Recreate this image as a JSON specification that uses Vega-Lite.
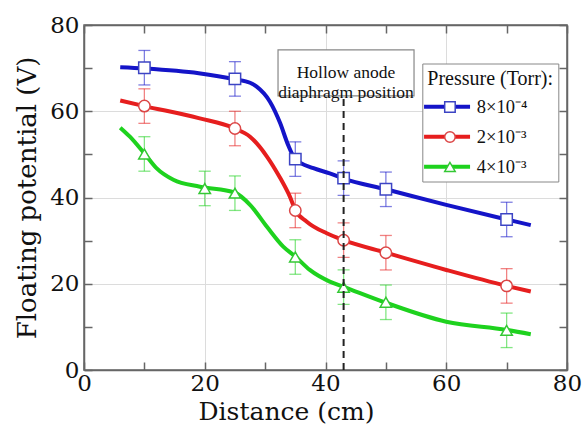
{
  "$schema": "https://vega.github.io/schema/vega-lite/v6.json",
  "width": 483,
  "height": 345,
  "autosize": "none",
  "padding": {"left": 84, "top": 25, "right": 18, "bottom": 62},
  "background": "white",
  "config": {
    "font": "Times New Roman, Liberation Serif, serif",
    "view": {"stroke": "#666", "strokeWidth": 1.5},
    "text": {"font": "Times New Roman, Liberation Serif, serif"},
    "axis": {
      "labelColor": "#111",
      "titleColor": "#111",
      "titleFontWeight": "normal",
      "domainColor": "#666",
      "domainWidth": 1.5,
      "tickColor": "#666",
      "tickWidth": 1.5,
      "tickSize": -8,
      "gridColor": "#dcdcdc",
      "gridWidth": 1,
      "labelFlush": false,
      "labelOverlap": false
    },
    "legend": {
      "labelFont": "Times New Roman, Liberation Serif, serif",
      "titleFont": "Times New Roman, Liberation Serif, serif"
    }
  },
  "datasets": {
    "curves": [
      {"p": "8×10⁻⁴", "x": 6, "y": 70.2},
      {"p": "8×10⁻⁴", "x": 10, "y": 69.9},
      {"p": "8×10⁻⁴", "x": 19, "y": 68.8},
      {"p": "8×10⁻⁴", "x": 25, "y": 67.4},
      {"p": "8×10⁻⁴", "x": 27.5, "y": 66.6},
      {"p": "8×10⁻⁴", "x": 28.6, "y": 65.7},
      {"p": "8×10⁻⁴", "x": 30.8, "y": 62.2},
      {"p": "8×10⁻⁴", "x": 32.5, "y": 57.2},
      {"p": "8×10⁻⁴", "x": 33.8, "y": 52.2},
      {"p": "8×10⁻⁴", "x": 35, "y": 48.9},
      {"p": "8×10⁻⁴", "x": 38, "y": 46.8},
      {"p": "8×10⁻⁴", "x": 40.7, "y": 45.6},
      {"p": "8×10⁻⁴", "x": 43, "y": 44.4},
      {"p": "8×10⁻⁴", "x": 50, "y": 41.9},
      {"p": "8×10⁻⁴", "x": 60, "y": 38.3},
      {"p": "8×10⁻⁴", "x": 70, "y": 34.9},
      {"p": "8×10⁻⁴", "x": 74, "y": 33.6},
      {"p": "2×10⁻³", "x": 6, "y": 62.5},
      {"p": "2×10⁻³", "x": 10, "y": 61.2},
      {"p": "2×10⁻³", "x": 19, "y": 58.4},
      {"p": "2×10⁻³", "x": 25, "y": 56.0},
      {"p": "2×10⁻³", "x": 27.5, "y": 54.1},
      {"p": "2×10⁻³", "x": 30.3, "y": 49.5},
      {"p": "2×10⁻³", "x": 32.5, "y": 44.5},
      {"p": "2×10⁻³", "x": 34.1, "y": 40.2},
      {"p": "2×10⁻³", "x": 35, "y": 37.1},
      {"p": "2×10⁻³", "x": 36.9, "y": 34.4},
      {"p": "2×10⁻³", "x": 40.2, "y": 31.7},
      {"p": "2×10⁻³", "x": 43, "y": 30.1},
      {"p": "2×10⁻³", "x": 50, "y": 27.2},
      {"p": "2×10⁻³", "x": 60, "y": 23.2},
      {"p": "2×10⁻³", "x": 70, "y": 19.5},
      {"p": "2×10⁻³", "x": 74, "y": 18.2},
      {"p": "4×10⁻³", "x": 6, "y": 56.2},
      {"p": "4×10⁻³", "x": 7.6, "y": 54.1},
      {"p": "4×10⁻³", "x": 10, "y": 50.2},
      {"p": "4×10⁻³", "x": 12, "y": 46.8},
      {"p": "4×10⁻³", "x": 14.8, "y": 44.1},
      {"p": "4×10⁻³", "x": 19.2, "y": 42.5},
      {"p": "4×10⁻³", "x": 25, "y": 41.1},
      {"p": "4×10⁻³", "x": 27.5, "y": 38.3},
      {"p": "4×10⁻³", "x": 30.3, "y": 33.2},
      {"p": "4×10⁻³", "x": 33, "y": 28.6},
      {"p": "4×10⁻³", "x": 35, "y": 26.3},
      {"p": "4×10⁻³", "x": 37.4, "y": 23.2},
      {"p": "4×10⁻³", "x": 40.7, "y": 20.5},
      {"p": "4×10⁻³", "x": 43, "y": 19.3},
      {"p": "4×10⁻³", "x": 50, "y": 15.6},
      {"p": "4×10⁻³", "x": 60, "y": 11.2},
      {"p": "4×10⁻³", "x": 70, "y": 9.3},
      {"p": "4×10⁻³", "x": 74, "y": 8.3}
    ],
    "points": [
      {"p": "8×10⁻⁴", "x": 10, "y": 70.1, "e": 4},
      {"p": "8×10⁻⁴", "x": 25, "y": 67.5, "e": 4},
      {"p": "8×10⁻⁴", "x": 35, "y": 48.9, "e": 4},
      {"p": "8×10⁻⁴", "x": 43, "y": 44.5, "e": 4},
      {"p": "8×10⁻⁴", "x": 50, "y": 41.9, "e": 4},
      {"p": "8×10⁻⁴", "x": 70, "y": 34.9, "e": 4},
      {"p": "2×10⁻³", "x": 10, "y": 61.2, "e": 4},
      {"p": "2×10⁻³", "x": 25, "y": 56.0, "e": 4},
      {"p": "2×10⁻³", "x": 35, "y": 37.0, "e": 4},
      {"p": "2×10⁻³", "x": 43, "y": 30.1, "e": 4},
      {"p": "2×10⁻³", "x": 50, "y": 27.2, "e": 4},
      {"p": "2×10⁻³", "x": 70, "y": 19.5, "e": 4},
      {"p": "4×10⁻³", "x": 10, "y": 50.1, "e": 4},
      {"p": "4×10⁻³", "x": 20, "y": 42.1, "e": 4},
      {"p": "4×10⁻³", "x": 25, "y": 41.0, "e": 4},
      {"p": "4×10⁻³", "x": 35, "y": 26.2, "e": 4},
      {"p": "4×10⁻³", "x": 43, "y": 19.2, "e": 4},
      {"p": "4×10⁻³", "x": 50, "y": 15.7, "e": 4},
      {"p": "4×10⁻³", "x": 70, "y": 9.2, "e": 4}
    ]
  },
  "resolve": {"axis": {"x": "independent", "y": "independent"}},
  "layer": [
    {
      "data": {"name": "curves"},
      "mark": {"type": "line", "interpolate": "monotone", "strokeWidth": 4},
      "encoding": {
        "x": {
          "field": "x", "type": "quantitative",
          "scale": {"domain": [0, 80], "nice": false, "zero": false},
          "axis": {
            "orient": "bottom",
            "values": [0, 10, 20, 30, 40, 50, 60, 70, 80],
            "labelExpr": "datum.value % 20 === 0 ? datum.label : ''",
            "labelFont": "DejaVu Serif",
            "titleFont": "DejaVu Serif",
            "labelFontSize": 23,
            "labelPadding": 10,
            "grid": true,
            "gridOpacity": {"condition": {"test": "datum.value % 20 === 0", "value": 1}, "value": 0},
            "title": "Distance (cm)",
            "titleFontSize": 25,
            "titlePadding": 4,
            "titleX": 202
          }
        },
        "y": {
          "field": "y", "type": "quantitative",
          "scale": {"domain": [0, 80], "nice": false, "zero": false},
          "axis": {
            "orient": "left",
            "values": [0, 10, 20, 30, 40, 50, 60, 70, 80],
            "labelExpr": "datum.value % 20 === 0 ? datum.label : ''",
            "labelFont": "DejaVu Serif",
            "titleFont": "DejaVu Serif",
            "labelFontSize": 23,
            "labelPadding": 13,
            "grid": true,
            "gridOpacity": {"condition": {"test": "datum.value % 20 === 0", "value": 1}, "value": 0},
            "title": "Floating potential (V)",
            "titleFontSize": 26,
            "titlePadding": 9
          }
        },
        "color": {
          "field": "p", "type": "nominal",
          "scale": {"domain": ["2×10⁻³", "4×10⁻³", "8×10⁻⁴"], "range": ["#e61e1e", "#1ed21e", "#1414c8"]},
          "legend": {
            "orient": "none",
            "legendX": 338.3,
            "legendY": 38.5,
            "values": ["8×10⁻⁴", "2×10⁻³", "4×10⁻³"],
            "title": "Pressure (Torr):",
            "titleFontSize": 20,
            "titleFontWeight": "normal",
            "titleColor": "#111",
            "titlePadding": 9,
            "labelFontSize": 18.5,
            "labelColor": "#111",
            "labelOffset": 31,
            "symbolType": "M-2.083,0H5.583",
            "symbolSize": 144,
            "symbolStrokeWidth": 4,
            "rowPadding": 11,
            "padding": 5,
            "fillColor": "white",
            "strokeColor": "#888"
          }
        }
      }
    },
    {
      "data": {"name": "points"},
      "mark": {"type": "errorbar", "ticks": {"size": 12}, "thickness": 1.3, "opacity": 0.55},
      "encoding": {
        "x": {"field": "x", "type": "quantitative", "axis": null},
        "y": {"field": "y", "type": "quantitative", "axis": null},
        "yError": {"field": "e"},
        "color": {"field": "p", "type": "nominal", "legend": null}
      }
    },
    {
      "data": {"name": "points"},
      "mark": {"type": "point", "fill": "white", "fillOpacity": 1, "strokeWidth": 1.5, "size": 130},
      "encoding": {
        "x": {
          "field": "x", "type": "quantitative",
          "axis": {"orient": "top", "values": [0, 10, 20, 30, 40, 50, 60, 70, 80], "labels": false, "title": null, "grid": false}
        },
        "y": {
          "field": "y", "type": "quantitative",
          "axis": {"orient": "right", "values": [0, 10, 20, 30, 40, 50, 60, 70, 80], "labels": false, "title": null, "grid": false}
        },
        "stroke": {
          "field": "p", "type": "nominal",
          "scale": {"domain": ["8×10⁻⁴", "2×10⁻³", "4×10⁻³"], "range": ["#3c44c4", "#dc4646", "#34c834"]},
          "legend": {
            "orient": "none",
            "legendX": 356.7,
            "legendY": 72.7,
            "title": null,
            "labelExpr": "''",
            "labelFontSize": 18.5,
            "symbolSize": 110,
            "symbolStrokeWidth": 1.5,
            "symbolFillColor": "white",
            "rowPadding": 11,
            "padding": 0
          }
        },
        "shape": {
          "field": "p", "type": "nominal",
          "scale": {"domain": ["8×10⁻⁴", "2×10⁻³", "4×10⁻³"], "range": ["square", "circle", "triangle-up"]},
          "legend": {
            "orient": "none",
            "legendX": 356.7,
            "legendY": 72.7,
            "title": null,
            "labelExpr": "''",
            "labelFontSize": 18.5,
            "symbolSize": 110,
            "symbolStrokeWidth": 1.5,
            "symbolFillColor": "white",
            "rowPadding": 11,
            "padding": 0
          }
        }
      }
    },
    {
      "data": {"values": [{}]},
      "mark": {"type": "rule", "strokeDash": [7, 5], "strokeWidth": 2, "color": "#222"},
      "encoding": {
        "x": {"datum": 43, "type": "quantitative", "axis": null},
        "y": {"datum": 0, "type": "quantitative", "axis": null},
        "y2": {"datum": 64}
      }
    },
    {
      "data": {"values": [{}]},
      "mark": {"type": "point", "shape": "M-1,-0.338H1V0.338H-1Z", "size": 18496, "fill": "white", "fillOpacity": 1, "stroke": "#888", "strokeWidth": 1.2, "opacity": 1},
      "encoding": {
        "x": {"datum": 43.4, "type": "quantitative", "axis": null},
        "y": {"datum": 68.9, "type": "quantitative", "axis": null}
      }
    },
    {
      "data": {"values": [{}]},
      "mark": {"type": "text", "fontSize": 17.5, "color": "#111", "lineHeight": 20, "baseline": "middle", "align": "center"},
      "encoding": {
        "x": {"datum": 43.4, "type": "quantitative", "axis": null},
        "y": {"datum": 68.9, "type": "quantitative", "axis": null},
        "text": {"value": ["Hollow anode", "diaphragm position"]}
      }
    }
  ]
}
